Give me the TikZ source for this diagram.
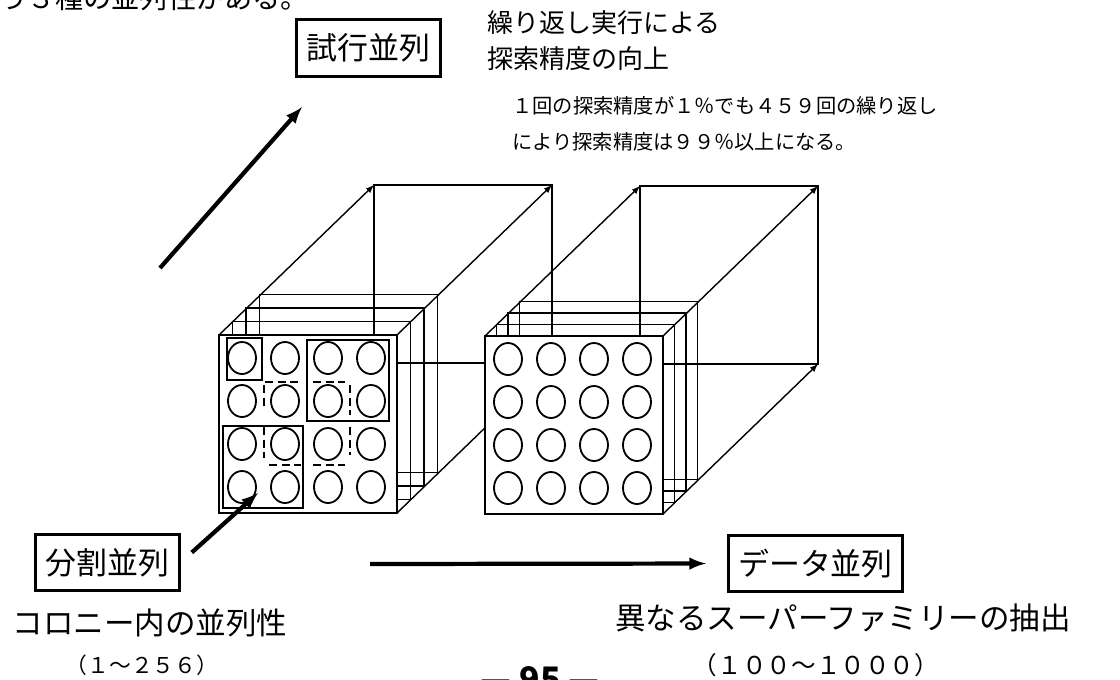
\documentclass[tikz,border=0pt]{standalone}
\usepackage{fontspec}
\newfontfamily\jp{Noto Sans CJK JP}

\begin{document}
\begin{tikzpicture}[x=0.025cm,y=-0.025cm,>=latex,
    para/.style={draw,rectangle,line width=2pt,inner xsep=7pt,minimum height=40pt,font=\jp\fontsize{22}{26}\selectfont},
    face/.style={draw,line width=1.4pt,fill=white},
    layer/.style={draw,line width=1pt},
    proj/.style={line width=1pt},
    colony/.style={line width=1.3pt},
    split/.style={line width=1.2pt,dash pattern=on 6pt off 3pt},
    big/.style={line width=3pt,->}]
    \useasboundingbox (0,0) rectangle (1120,679);

    \node[anchor=base east,inner sep=0pt,font=\jp\fontsize{20}{24}\selectfont] (h) at (309,8) {う３種の並列性がある。};

    % two colonies, each with its copies behind it
    \foreach \cx/\cy/\d in {219/335/13.5,485/336/11.5}{
        \draw[proj] (\cx+155,\cy-150) rectangle +(178,178);
        \draw[proj,->] (\cx,\cy) -- +(155,-150);
        \draw[proj,->] (\cx+178,\cy) -- +(155,-150);
        \draw[proj,->] (\cx+178,\cy+178) -- +(155,-150);
        \foreach \k in {3,2,1}
            \draw[layer] (\cx+\k*\d,\cy-\k*\d) rectangle +(178,178);
        \draw[face] (\cx,\cy) rectangle +(178,178);
        \foreach \i in {0,...,3}
            \foreach \j in {0,...,3}
                \draw[colony] (\cx+23+43*\i,\cy+23+43*\j) ellipse (14 and 16);
    }

    \begin{scope}[shift={(219,335)}]
        \draw[line width=1.2pt] (8,3) rectangle (43,45) (88,5) rectangle (170,86) (4,91) rectangle (84,173);
        \draw[split] (46,47) -- (79,47) (45,50) -- (45,75);
        \draw[split] (94,47) -- (126,47) (131,50) -- (131,80);
        \draw[split] (45,92) -- (45,123) (50,130) -- (82,130);
        \draw[split] (131,92) -- (131,120) (94,130) -- (126,130);
    \end{scope}

    \node[para] (s) at (368.5,48) {試行並列};
    \node[anchor=north west,inner sep=0pt,align=left,font=\jp\fontsize{18.5}{25.6}\selectfont] (r) at (487,10) {繰り返し実行による\\探索精度の向上};
    \node[anchor=north west,inner sep=0pt,align=left,font=\jp\fontsize{14.4}{25.6}\selectfont] (n) at (512,96) {１回の探索精度が１％でも４５９回の繰り返し\\により探索精度は９９％以上になる。};

    \node[para] (b) at (107.5,562.5) {分割並列};
    \node[font=\jp\fontsize{21.7}{26}\selectfont] (c) at (150,623) {コロニー内の並列性};
    \node[font=\jp\fontsize{15.5}{18}\selectfont] (c2) at (142,665) {（１～２５６）};

    \node[para] (d) at (815.5,563.5) {データ並列};
    \node[font=\jp\fontsize{21.7}{26}\selectfont] (e) at (843,618) {異なるスーパーファミリーの抽出};
    \node[font=\jp\fontsize{17.5}{20}\selectfont] (e2) at (816,665) {（１００～１０００）};

    \node[anchor=base,font=\jp\bfseries\fontsize{24}{28}\selectfont] (p) at (540,691) {— 95 —};

    \coordinate (t1) at (160,268);
    \coordinate (t2) at (302,107);
    \coordinate (bt) at (258,493);
    \coordinate (dt) at (370,564);
    \draw[big] (t1) -- (t2);
    \draw[big,shorten <=0.375cm] (b.east) -- (bt);
    \draw[big,shorten >=0.525cm] (dt) -- (d.west);
\end{tikzpicture}
\end{document}
